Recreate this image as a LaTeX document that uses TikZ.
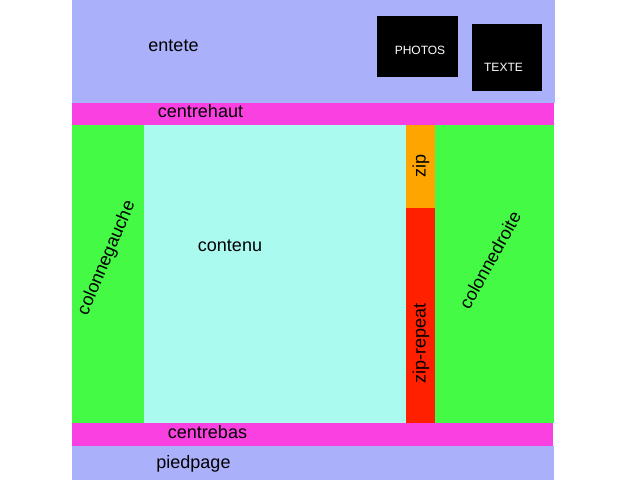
\documentclass[tikz,border=0pt]{standalone}
\usepackage{fontspec}
\setmainfont{Liberation Sans}
\definecolor{lav}{RGB}{170,176,250}
\definecolor{mag}{RGB}{250,64,224}
\definecolor{grn}{RGB}{68,250,68}
\definecolor{cya}{RGB}{170,250,240}
\definecolor{org}{RGB}{255,165,0}
\definecolor{rd}{RGB}{255,32,0}
\begin{document}
\begin{tikzpicture}[x=0.75pt,y=-0.75pt,
  lbl/.style={font=\fontsize{13.5}{16}\selectfont, inner sep=0pt, text=black},
  wlbl/.style={font=\fontsize{9}{11}\selectfont, inner sep=0pt, text=white}]
\useasboundingbox (0,0) rectangle (640,480);
\fill[white] (0,0) rectangle (640,480);
% regions
\fill[lav] (72,0) rectangle (555,103);
\fill[mag] (72,103) rectangle (554,125);
\fill[grn] (72,125) rectangle (144,423);
\fill[cya] (144,125) rectangle (406,423);
\fill[org] (406,125) rectangle (435,208);
\fill[rd] (406,208) rectangle (435,423);
\fill[grn] (435,125) rectangle (554,423);
\fill[mag] (72,423) rectangle (553,446);
\fill[lav] (72,446) rectangle (554,480);
\fill[black] (377,16) rectangle (458,77);
\fill[black] (472,24) rectangle (542,91);
% labels
\node[lbl, anchor=base] (entete) at (173.5,51) {entete};
\node[wlbl, anchor=base] (photos) at (420,54) {PHOTOS};
\node[wlbl, anchor=base] (texte) at (503.5,71) {TEXTE};
\node[lbl, anchor=base] (centrehaut) at (200.5,117) {centrehaut};
\node[lbl, anchor=base] (contenu) at (230,251) {contenu};
\node[lbl, rotate=67] (colg) at (107,258) {colonnegauche};
\node[lbl, rotate=61] (cold) at (490,260) {colonnedroite};
\node[lbl, rotate=90] (zip) at (421,166) {zip};
\node[lbl, rotate=90] (ziprep) at (421,343) {zip-repeat};
\node[lbl, anchor=base] (centrebas) at (207.5,438) {centrebas};
\node[lbl, anchor=base] (piedpage) at (193.5,468) {piedpage};
\end{tikzpicture}
\end{document}
